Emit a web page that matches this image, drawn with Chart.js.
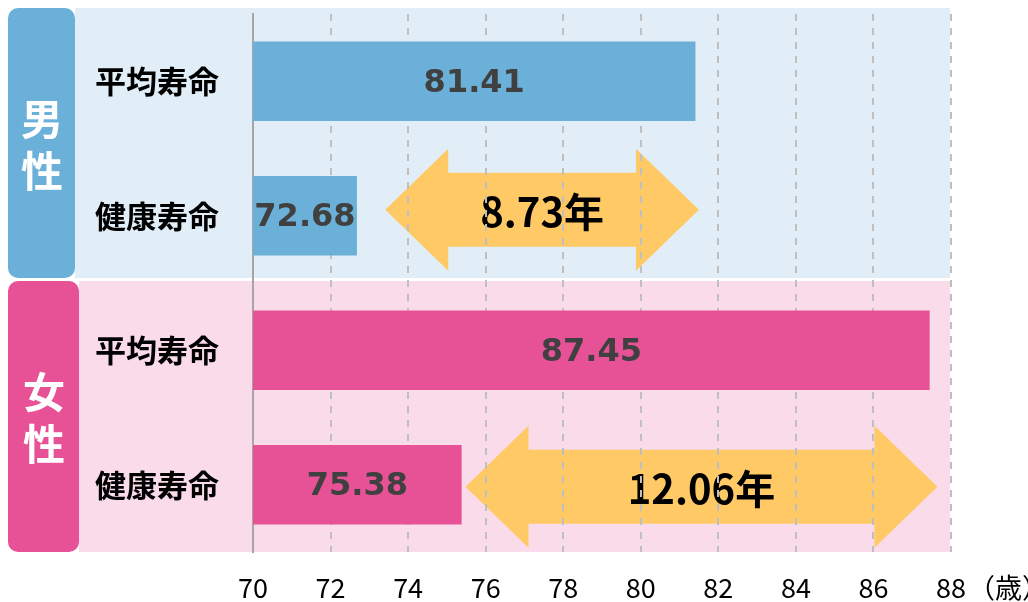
<!DOCTYPE html>
<html><head><meta charset="utf-8">
<script src="https://cdn.jsdelivr.net/npm/chart.js@4.4.1/dist/chart.umd.min.js"></script>
<style>html,body{margin:0;padding:0;background:#fff;overflow:hidden}</style>
</head><body>
<canvas id="c" width="1028" height="602"></canvas>
<script>
// ---- data ----
const categories = ['平均寿命', '健康寿命', '平均寿命', '健康寿命'];
const values = [81.41, 72.68, 87.45, 75.38];
const groupLabels = ['男', '女'];
const gapLabels = ['8.73年', '12.06年'];
const gapFrom = [73.41, 75.48];
const gapTo = [81.5, 87.65];
const xMin = 70, xMax = 88, xStep = 2;
const unitLabel = '（歳）';

// ---- styles ----
const BLUE = '#6BB0D8', PINK = '#E75296';
const BLUE_BG = '#E1EEF7', PINK_BG = '#FADBEA';
const ARROW = '#FFCA66';
const barColors = [BLUE, BLUE, PINK, PINK];
const CJK = '"Noto Sans CJK JP", "Noto Sans", sans-serif';

const decoPlugin = {
  id: 'deco',
  beforeDraw(chart) {
    const ctx = chart.ctx, ca = chart.chartArea;
    const x = chart.scales.x, y = chart.scales.y;
    const mid = (y.getPixelForValue(1) + y.getPixelForValue(2)) / 2;
    const regions = [
      {top: ca.top - 6, bottom: mid - 5, bg: BLUE_BG, box: BLUE, boxRight: 75, label: groupLabels[0]},
      {top: mid - 2, bottom: ca.bottom, bg: PINK_BG, box: PINK, boxRight: 79, label: groupLabels[1]}
    ];
    ctx.save();
    regions.forEach(r => {
      ctx.fillStyle = r.bg;
      ctx.fillRect(r.boxRight, r.top, ca.right - 1 - r.boxRight, r.bottom - r.top);
      ctx.fillStyle = r.box;
      ctx.beginPath();
      ctx.roundRect(8, r.top, r.boxRight - 8, r.bottom - r.top, 10);
      ctx.fill();
      const cy = (r.top + r.bottom) / 2 + 2;
      const cx = (8 + r.boxRight) / 2 + 0.5;
      ctx.fillStyle = '#FFFFFF';
      ctx.font = 'bold 42px ' + CJK;
      ctx.textAlign = 'center';
      ctx.textBaseline = 'middle';
      ctx.fillText(r.label, cx, cy - 26);
      ctx.fillText('性', cx, cy + 26);
    });
    // arrows
    const rows = [1, 3];
    const offs = [-6, 2];
    rows.forEach((ri, i) => {
      const cy = y.getPixelForValue(ri) + offs[i];
      const x0 = x.getPixelForValue(gapFrom[i]);
      const x1 = x.getPixelForValue(gapTo[i]);
      const hl = 63, hh = 61, bh = 37;
      ctx.fillStyle = ARROW;
      ctx.beginPath();
      ctx.moveTo(x0, cy);
      ctx.lineTo(x0 + hl, cy - hh);
      ctx.lineTo(x0 + hl, cy - bh);
      ctx.lineTo(x1 - hl, cy - bh);
      ctx.lineTo(x1 - hl, cy - hh);
      ctx.lineTo(x1, cy);
      ctx.lineTo(x1 - hl, cy + hh);
      ctx.lineTo(x1 - hl, cy + bh);
      ctx.lineTo(x0 + hl, cy + bh);
      ctx.lineTo(x0 + hl, cy + hh);
      ctx.closePath();
      ctx.fill();
      ctx.fillStyle = '#000000';
      ctx.font = 'bold 40px ' + CJK;
      ctx.textAlign = 'center';
      ctx.textBaseline = 'middle';
      ctx.fillText(gapLabels[i], (x0 + x1) / 2, cy + 2);
    });
    ctx.restore();
  },
  afterDraw(chart) {
    const ctx = chart.ctx, x = chart.scales.x, y = chart.scales.y;
    ctx.save();
    ctx.fillStyle = '#404040';
    ctx.font = 'bold 32px "DejaVu Sans", Verdana, sans-serif';
    ctx.textAlign = 'center';
    ctx.textBaseline = 'middle';
    const base = x.getPixelForValue(xMin);
    values.forEach((v, i) => {
      ctx.fillText(v.toFixed(2), (x.getPixelForValue(v) + base) / 2, y.getPixelForValue(i) + 2);
    });
    ctx.fillStyle = '#000000';
    ctx.font = '27px ' + CJK;
    ctx.textAlign = 'left';
    ctx.fillText(unitLabel, x.getPixelForValue(xMax) + 17, 588);
    ctx.restore();
  }
};

new Chart(document.getElementById('c'), {
  type: 'bar',
  data: {
    labels: categories,
    datasets: [{
      data: values,
      backgroundColor: barColors,
      borderWidth: 0,
      barPercentage: 0.59,
      categoryPercentage: 1.0
    }]
  },
  options: {
    indexAxis: 'y',
    responsive: false,
    animation: false,
    devicePixelRatio: 1,
    layout: {padding: {left: 95, top: 14, right: 77, bottom: 0}},
    plugins: {legend: {display: false}, tooltip: {enabled: false}},
    scales: {
      x: {
        min: xMin, max: xMax,
        afterFit(s) { s.height = 50; },
        ticks: {stepSize: xStep, color: '#000000', font: {family: CJK, size: 27}, padding: 20, maxRotation: 0},
        grid: {color: '#BFBFBF', lineWidth: 2, drawTicks: false},
        border: {display: false, dash: [7, 7]}
      },
      y: {
        afterFit(s) { s.width = 158; s.paddingTop = 0; s.paddingBottom = 0; },
        ticks: {color: '#000000', font: {family: CJK, size: 31, weight: 'bold'}, crossAlign: 'far'},
        grid: {display: false, drawTicks: false},
        border: {display: true, color: '#A6A6A6', width: 2}
      }
    }
  },
  plugins: [decoPlugin]
});
</script>
</body></html>
